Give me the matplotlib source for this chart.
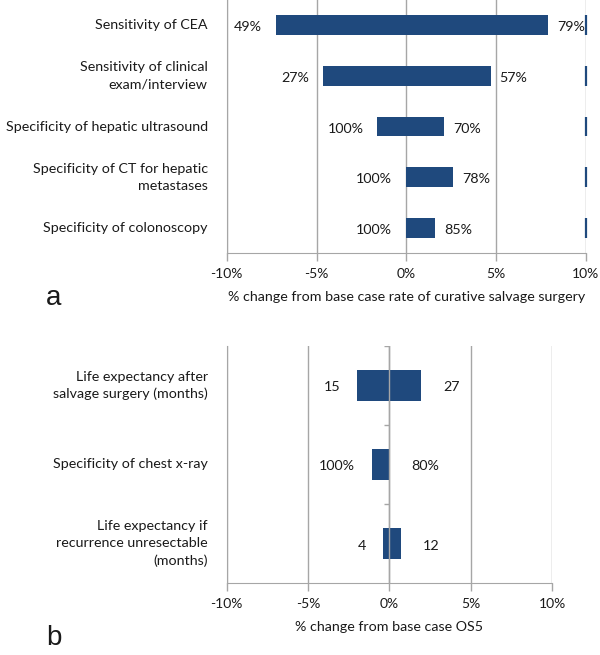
import numpy as np
import matplotlib
matplotlib.use("Agg")
import matplotlib.pyplot as plt

plt.rcParams['font.family'] = ['Lato', 'DejaVu Sans']

# panel a data (% change from base case rate of curative salvage surgery)
cats_a = ["Sensitivity of CEA",
          "Sensitivity of clinical\nexam/interview",
          "Specificity of hepatic ultrasound",
          "Specificity of CT for hepatic\nmetastases",
          "Specificity of colonoscopy"]
low_a = [-7.25, -4.65, -1.6, 0.0, 0.0]
high_a = [7.9, 4.7, 2.1, 2.6, 1.6]
low_lab_a = ["49%", "27%", "100%", "100%", "100%"]
high_lab_a = ["79%", "57%", "70%", "78%", "85%"]

# panel b data (% change from base case OS5)
cats_b = ["Life expectancy after\nsalvage surgery (months)",
          "Specificity of chest x-ray",
          "Life expectancy if\nrecurrence unresectable\n(months)"]
low_b = [-1.97, -1.1, -0.4]
high_b = [1.97, 0.0, 0.7]
low_lab_b = ["15", "100%", "4"]
high_lab_b = ["27", "80%", "12"]

xticks = [-10, -5, 0, 5, 10]
xticklabels = ["-10%", "-5%", "0%", "5%", "10%"]

bar_col = "#1f497d"
grid_col = "#a6a6a6"
txt_col = "#1a1a1a"
fs = 10.3


def tornado(ax, cats, low, high, low_lab, high_lab, xlabel, gap_l, gap_r):
    n = len(cats)
    y = np.arange(n)
    h = 0.39
    ax.barh(y, low, height=h, color=bar_col, linewidth=0, zorder=2)
    ax.barh(y, high, height=h, color=bar_col, linewidth=0, zorder=2)
    for yi, lo, hi, ll, hl in zip(y, low, high, low_lab, high_lab):
        ax.annotate(ll, (lo, yi), xytext=(-gap_l, -2), textcoords="offset pixels",
                    ha="right", va="center", fontsize=fs, color=txt_col)
        ax.annotate(hl, (hi, yi), xytext=(gap_r, -2), textcoords="offset pixels",
                    ha="left", va="center", fontsize=fs, color=txt_col)
        ax.annotate(cats[yi], (-10, yi), xytext=(-19, 0), textcoords="offset pixels",
                    ha="right", va="center", fontsize=fs, color=txt_col,
                    multialignment="right", linespacing=1.5, annotation_clip=False)
    ax.set_xlim(-10, 10)
    ax.set_ylim(n - 0.5, -0.5)
    ax.set_xticks(xticks)
    ax.set_xticklabels(xticklabels, fontsize=10, color=txt_col)
    ax.set_yticks([])
    ax.grid(axis="x", color=grid_col, linewidth=1.0, zorder=0)
    ax.set_axisbelow(True)
    for s in ["top", "right"]:
        ax.spines[s].set_visible(False)
    ax.spines["bottom"].set_color(grid_col)
    ax.spines["left"].set_color(grid_col)
    ax.tick_params(axis="x", direction="out", length=6, width=1, color=grid_col, pad=5)
    ax.set_xlabel(xlabel, fontsize=fs, color=txt_col, labelpad=8)
    return y, h


fig = plt.figure(figsize=(6, 6.55), dpi=100)

ax_a = fig.add_axes([0.378, 0.6137, 0.598, 0.3863])
y_a, h_a = tornado(ax_a, cats_a, low_a, high_a, low_lab_a, high_lab_a,
                   "% change from base case rate of curative salvage surgery", 14, 9)
# thin marks of the hidden series at the right edge
ax_a.vlines(np.full(len(y_a), 10.0), y_a - h_a / 2, y_a + h_a / 2,
            color=bar_col, linewidth=1.6, clip_on=False, zorder=3)

ax_b = fig.add_axes([0.378, 0.1099, 0.542, 0.3619])
y_b, h_b = tornado(ax_b, cats_b, low_b, high_b, low_lab_b, high_lab_b,
                   "% change from base case OS5", 17, 22)
ax_b.axvline(0, color=grid_col, linewidth=1.0, zorder=4)
ax_b.hlines(np.arange(len(cats_b)) - 0.5, -0.35, 0, color=grid_col, linewidth=1.0, zorder=4)

fig.text(0.09, 1 - 298 / 655, "a", fontsize=20, family="Liberation Sans",
         ha="center", va="center", color=txt_col)
fig.text(0.09, 1 - 638 / 655, "b", fontsize=20, family="Liberation Sans",
         ha="center", va="center", color=txt_col)

fig.savefig("out.png", dpi=100, facecolor="white")
